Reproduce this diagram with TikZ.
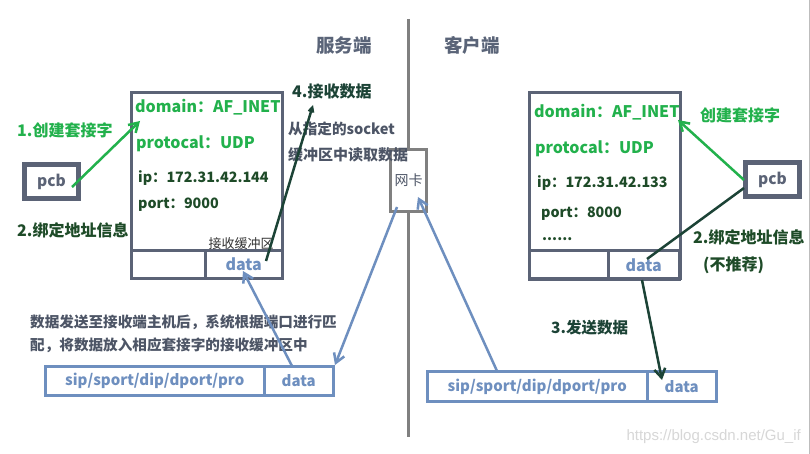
\documentclass[tikz,border=0pt]{standalone}
\usepackage{fontspec}
\setmainfont{Noto Sans CJK SC}
\newfontfamily\wmfont{Liberation Sans}
\usetikzlibrary{arrows.meta}
\definecolor{boxgray}{RGB}{91,99,118}
\definecolor{hdgray}{RGB}{90,100,120}
\definecolor{txtgray}{RGB}{77,85,102}
\definecolor{gn}{RGB}{34,177,76}
\definecolor{dgn}{RGB}{30,75,40}
\definecolor{arrdk}{RGB}{28,67,54}
\definecolor{bl}{RGB}{110,143,191}
\definecolor{lgray}{RGB}{128,128,128}
\definecolor{wm}{RGB}{215,215,215}
\tikzset{
  txt/.style={inner sep=0pt, font=\bfseries\fontsize{16}{19}\selectfont},
  wtxt/.style={txt, anchor=west},
  pcbbox/.style={draw=boxgray, line width=5pt, minimum width=54pt, minimum height=34pt, inner sep=0pt, text=boxgray, font=\bfseries\fontsize{15.5}{18}\selectfont},
  sockbox/.style={draw=boxgray, line width=3pt, minimum width=151pt, minimum height=186pt, inner sep=0pt},
  cell/.style={draw=boxgray, line width=3pt, minimum height=28.5pt, inner sep=0pt, text=bl, font=\bfseries\fontsize{16}{19}\selectfont},
  msgcell/.style={draw=bl, line width=3pt, minimum height=29pt, inner sep=0pt, text=bl, font=\bfseries\fontsize{15}{18}\selectfont},
  nicbox/.style={draw=lgray, fill=white, line width=3pt, minimum width=36pt, minimum height=62pt, inner sep=0pt, text=txtgray, font=\fontsize{14}{17}\selectfont},
  head/.style={-{Straight Barb[length=9pt,width=11pt,line width=2.5pt]}},
  garrow/.style={draw=gn, line width=2.5pt, head},
  darrow/.style={draw=arrdk, line width=2.5pt},
  barrow/.style={draw=bl, line width=2.5pt, head},
  midline/.style={draw=lgray, line width=3pt},
}
\begin{document}
\begin{tikzpicture}[x=1pt,y=-1pt]
\useasboundingbox (0,0) rectangle (810,454);
\fill[white] (0,0) rectangle (810,454);
\draw[wm!70!gray, line width=1pt] (809,0) -- (809,454);

% middle line and NIC
\node[nicbox] (nic) at (408.5,180.5) {网卡};
\coordinate (midtop) at (408.5,19);
\coordinate (midbot) at (408.5,437);
\draw[midline] (midtop) -- (nic.north);
\draw[midline] (nic.south) -- (midbot);

\node[txt, text=hdgray, font=\bfseries\fontsize{18.5}{22}\selectfont] (server) at (344,45) {服务端};
\node[txt, text=hdgray, font=\bfseries\fontsize{18.5}{22}\selectfont] (client) at (472,45) {客户端};

% server side
\node[sockbox] (ssock) at (207,185.5) {};
\node[cell, minimum width=73.5pt] (sbufl) at (168.25,264.25) {};
\node[cell, minimum width=77.5pt] (sdata) at (243.75,264.25) {data};
\node[wtxt, text=gn] (sdom) at (135,107) {domain：AF\_INET};
\node[wtxt, text=gn] (sproto) at (136,144) {protocal：UDP};
\node[wtxt, text=dgn, font=\bfseries\fontsize{14.3}{17}\selectfont] (sip) at (138,178) {ip：172.31.42.144};
\node[wtxt, text=dgn, font=\bfseries\fontsize{14.3}{17}\selectfont] (sport) at (138,205) {port：9000};
\node[txt, text=black!80, font=\fontsize{13}{16}\selectfont] (srecv) at (241,244) {接收缓冲区};

\node[pcbbox] (spcb) at (51.5,181.5) {pcb};
\node[wtxt, text=gn] (s1) at (17,130) {1.创建套接字};
\node[wtxt, text=dgn] (s2) at (17,230) {2.绑定地址信息};

\node[wtxt, text=arrdk, font=\bfseries\fontsize{16}{19}\selectfont] (s4) at (292,91) {4.接收数据};
\node[wtxt, text=txtgray, font=\bfseries\fontsize{14.6}{17}\selectfont] (s4a) at (288,129) {从指定的socket};
\node[wtxt, text=txtgray, font=\bfseries\fontsize{15}{17}\selectfont] (s4b) at (288,155) {缓冲区中读取数据};

\node[wtxt, text=txtgray, font=\bfseries\fontsize{14.6}{17}\selectfont] (n1) at (30,322) {数据发送至接收端主机后，系统根据端口进行匹};
\node[wtxt, text=txtgray, font=\bfseries\fontsize{14.6}{17}\selectfont] (n2) at (30,345) {配，将数据放入相应套接字的接收缓冲区中};

\node[msgcell, minimum width=218.5pt] (smsgh) at (154.75,381) {sip/sport/dip/dport/pro};
\node[msgcell, minimum width=69.5pt] (smsgd) at (298.75,381) {data};

% client side
\node[sockbox] (csock) at (604.5,185.5) {};
\node[cell, minimum width=78.5pt] (cbufl) at (568.75,265) {};
\node[cell, minimum width=71.5pt] (cdata) at (643.75,265) {data};
\node[wtxt, text=gn] (cdom) at (534,112) {domain：AF\_INET};
\node[wtxt, text=gn] (cproto) at (535,149) {protocal：UDP};
\node[wtxt, text=dgn, font=\bfseries\fontsize{14.3}{17}\selectfont] (cip) at (537,183) {ip：172.31.42.133};
\node[wtxt, text=dgn, font=\bfseries\fontsize{14.3}{17}\selectfont] (cport) at (541,214) {port：8000};
\node[wtxt, text=dgn, font=\bfseries\fontsize{14.3}{17}\selectfont] (cdots) at (542,239) {......};

\node[pcbbox] (cpcb) at (772.5,180) {pcb};
\node[wtxt, text=gn] (c1) at (700,115) {创建套接字};
\node[wtxt, text=dgn] (c2) at (693,237) {2.绑定地址信息};
\node[wtxt, text=dgn] (c2b) at (703,265) {(不推荐)};
\node[wtxt, text=arrdk, font=\bfseries\fontsize{15.5}{18}\selectfont] (c3) at (551,328) {3.发送数据};

\node[msgcell, minimum width=219.5pt, minimum height=30pt] (cmsgh) at (537.25,386.5) {sip/sport/dip/dport/pro};
\node[msgcell, minimum width=69.5pt, minimum height=30pt] (cmsgd) at (681.75,386.5) {data};

\node[inner sep=0pt, text=wm, font=\wmfont\fontsize{15}{18}\selectfont, anchor=east] (wmark) at (801,437) {https://blog.csdn.net/Gu\_if};

% connectors
\coordinate (a1s) at (72,187);
\coordinate (a1e) at (140,121);
\draw[garrow] (a1s) -- (a1e);

\coordinate (a4s) at (266,261);
\coordinate (a4e) at (313,105);
\draw[darrow, -{Straight Barb[length=5pt,width=5pt,line width=2pt]}] (a4s) -- (a4e);

\coordinate (b1s) at (292,366);
\coordinate (b1e) at (243,271);
\draw[barrow] (b1s) -- (b1e);

\coordinate (b2s) at (397,207);
\coordinate (b2e) at (335,365);
\draw[barrow] (b2s) -- (b2e);

\coordinate (b3s) at (497,371);
\coordinate (b3e) at (418,197);
\draw[barrow] (b3s) -- (b3e);

\coordinate (c1s) at (744,180);
\coordinate (c1e) at (678,120);
\draw[garrow] (c1s) -- (c1e);

\coordinate (c2s) at (744,188);
\coordinate (c2e) at (647,259);
\draw[darrow] (c2s) -- (c2e);

\coordinate (c3s) at (642,280);
\coordinate (c3e) at (662,380);
\draw[darrow, head] (c3s) -- (c3e);
\end{tikzpicture}
\end{document}
